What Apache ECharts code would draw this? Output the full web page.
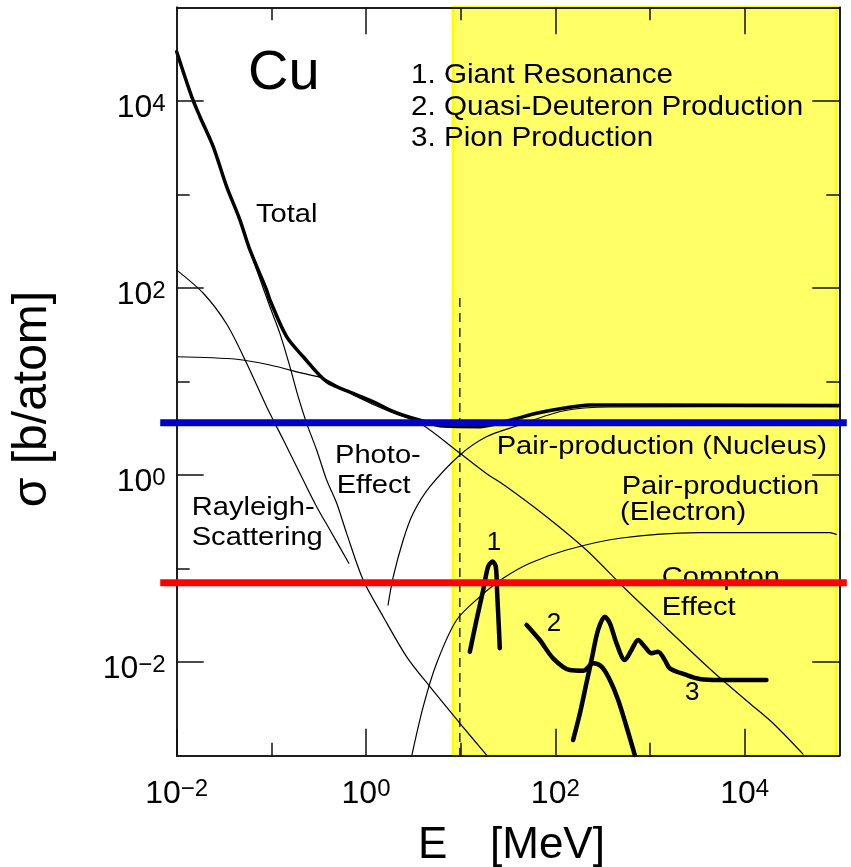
<!DOCTYPE html>
<html><head><meta charset="utf-8">
<script src="https://cdn.jsdelivr.net/npm/echarts@6/dist/echarts.min.js"></script>
<style>html,body{margin:0;padding:0;background:#fff}#c{width:851px;height:867px}</style>
</head><body><div id="c"></div>
<script>
// ---- axis ranges and ticks ----
const xMin = 0.01, xMax = 1e5, yMin = 1e-3, yMax = 1e5;
const xMajorTicks = [0.01, 1, 100, 1e4];
const xMinorTicks = [0.1, 10, 1000];
const yMajorTicks = [0.01, 1, 100, 1e4];
const yMinorTicks = [0.1, 10, 1000];
const yRightMinorTicks = [10, 1000];

// ---- curves [E (MeV), sigma (b/atom)] ----
const totalCurve = [[0.01,3.35e4],[0.0144,1.11e4],[0.0176,6.77e3],[0.0243,3.24e3],[0.0337,1.21e3],[0.0466,532],[0.0594,255],[0.0891,95],[0.0966,74.3],[0.145,30.1],[0.217,18.4],[0.384,9.95],[0.733,7.48],[1.29,5.85],[1.79,4.96],[2.47,4.38],[3.71,3.87],[6.53,3.34],[16,3.29],[35.8,3.94],[63.2,4.57],[121,5.17],[231,5.61],[1000,5.6],[1e5,5.55]];
const photoCurve = [[0.01,3.3e4],[0.0144,1.1e4],[0.0176,6.7e3],[0.0243,3.2e3],[0.0337,1.2e3],[0.0466,525],[0.0594,250],[0.0966,63],[0.123,32.7],[0.157,14.4],[0.192,6.88],[0.236,3.57],[0.301,1.85],[0.384,0.885],[0.49,0.499],[0.624,0.238],[0.933,0.0755],[1.52,0.0306],[2.69,0.0114],[4.73,0.00547],[9.82,0.00222],[18.7,0.00102]];
const rayleighCurve = [[0.01,155],[0.0191,87.7],[0.0337,41.2],[0.0548,15.7],[0.0891,5.38],[0.134,2.37],[0.217,0.885],[0.301,0.459],[0.416,0.259],[0.659,0.114]];
const comptonCurve = [[0.01,18.4],[0.043,17.3],[0.0966,15.0],[0.217,12.2],[0.353,10.8],[0.733,7.2],[1.79,4.75],[3.71,3.57],[9.82,1.71],[18.7,1.04],[30.5,0.75],[80.7,0.359],[213,0.158],[565,0.059],[1490,0.0232],[4630,0.0079],[11300,0.00363],[19950,0.00222],[41400,0.00104]];
const pairNucleusCurve = [[1.71,0.0408],[1.94,0.0819],[2.47,0.202],[3.15,0.39],[4.73,0.75],[9.82,1.64],[18.7,2.57],[38.9,3.34],[120,4.84],[377,5.34],[1e5,5.4]];
const pairElectronCurve = [[3.03,0.00098],[4.02,0.00334],[5.57,0.00972],[9.06,0.0282],[16,0.0501],[28.1,0.0787],[53.8,0.114],[131,0.158],[480,0.211],[3360,0.242],[18400,0.243],[79300,0.242],[93000,0.232]];
const giantResonance = [[12.5,0.0129],[14.7,0.0282],[17.3,0.059],[19.5,0.105],[21.7,0.119],[23.5,0.105],[24.3,0.0545],[25.3,0.0239],[25.9,0.0141]];
const quasiDeuteron = [[49.7,0.025],[68.5,0.01726],[94.8,0.01099],[142,0.00824],[197,0.0081],[251,0.00972],[308,0.00894],[377,0.00644],[461,0.00394],[565,0.00204],[690,0.00102]];
const pionProduction = [[154,0.00147],[182,0.00284],[213,0.00594],[241,0.01054],[283,0.0221],[333,0.0306],[377,0.026],[443,0.0159],[542,0.01054],[638,0.0135],[749,0.0173],[881,0.0146],[1037,0.01244],[1219,0.01294],[1433,0.01054],[1618,0.00859],[2427,0.00729],[3357,0.00661],[5457,0.00644],[16980,0.00644]];
const thresholdLine = [[9.8,78],[9.8,1e-3]];
const levelSpan = [0.0067, 1.2e5];
const blueLevel = 3.63;
const redLevel = 0.0706;
const yellowBand = [8.3, 93100];

const FONT = '"Liberation Sans", Arial, Helvetica, sans-serif';
const frame = {color:'#111', width:1.5};

function tickLabel(v){
  const e = Math.round(Math.log10(v));
  return '{b|10}{s|' + (e < 0 ? '\u2212' + (-e) : e) + '}';
}
const rich = {
  b:{fontSize:32, lineHeight:32, fontFamily:FONT, color:'#000'},
  s:{fontSize:24, lineHeight:22, fontFamily:FONT, color:'#000', verticalAlign:'top'}
};
function axis(kind, pos, ticks, len, labels){
  const a = {
    type:'log', logBase:10, gridIndex:0, position:pos, z:3,
    min: kind==='x'?xMin:yMin, max: kind==='x'?xMax:yMax,
    axisLine:{show:true, lineStyle:frame},
    splitLine:{show:false}, minorTick:{show:false}, minorSplitLine:{show:false},
    axisTick:{show:true, inside:true, length:len, customValues:ticks, lineStyle:frame},
    axisLabel:{show:false},
    axisPointer:{show:false}
  };
  if (labels){
    a.axisLabel = {show:true, customValues:ticks, formatter:tickLabel, rich:rich,
      margin: kind==='x'?22:11, padding: kind==='x'?[0,0,0,0]:[15,0,0,0]};
  }
  return a;
}
function curve(data, width, smooth){
  return {type:'line', data:data, xAxisIndex:0, yAxisIndex:0, symbol:'none', showSymbol:false,
    smooth:smooth, z:2, silent:true, animation:false,
    lineStyle:{color:'#000', width:width, cap:'round', join:'round'}};
}
function txt(x, y, s, size, sx, extra){
  return Object.assign({type:'text', x:x, y:y, scaleX:sx||1, z:5, silent:true,
    style:{text:s, font: size+'px '+FONT, fill:'#000', align:'left', verticalAlign:'middle'}}, extra||{});
}

const chart = echarts.init(document.getElementById('c'), null, {renderer:'canvas'});
const dashed = {
  type:'line', data:thresholdLine, xAxisIndex:0, yAxisIndex:0, symbol:'none', z:2, silent:true,
  lineStyle:{color:'#000', width:1.3, type:[9,6]},
  markArea:{silent:true, z:1, itemStyle:{color:'#ffff66', borderColor:'#ffff00', borderWidth:3},
    data:[[{xAxis:yellowBand[0]},{xAxis:yellowBand[1]}]]}
};
const S = 26, SX = 1.12, D = 9.1, LS = 28.5, LSX = 1.04;
chart.setOption({
  animation:false,
  backgroundColor:'#fff',
  grid:{left:176.7, right:11.7, top:7.3, bottom:111.3, containLabel:false, outerBoundsMode:'none'},
  xAxis:[
    axis('x','bottom',xMajorTicks,27,true),
    axis('x','bottom',xMinorTicks,13,false),
    axis('x','top',xMajorTicks.slice(1),27,false),
    axis('x','top',xMinorTicks,13,false)
  ],
  yAxis:[
    axis('y','left',yMajorTicks,27,true),
    axis('y','left',yMinorTicks,13,false),
    axis('y','right',yMajorTicks,27,false),
    axis('y','right',yRightMinorTicks,13,false)
  ],
  series:[
    dashed,
    curve(rayleighCurve,1.2,0.3),
    curve(photoCurve,1.2,0.3),
    curve(comptonCurve,1.2,0.3),
    curve(pairNucleusCurve,1.2,0.3),
    curve(pairElectronCurve,1.2,0.3),
    curve(totalCurve,3.5,0.3),
    curve(giantResonance,4.5,0.3),
    curve(quasiDeuteron,4.5,0.3),
    curve(pionProduction,4.5,0.3)
  ],
  graphic:[
    txt(248,73.4,'Cu',56),
    txt(411,74.9,'1. Giant Resonance',LS,LSX),
    txt(411,106.9,'2. Quasi-Deuteron Production',LS,LSX),
    txt(411,137.9,'3. Pion Production',LS,LSX),
    txt(256,224-D,'Total',S,SX),
    txt(335,465-D,'Photo-',S,SX),
    txt(336.7,495-D,'Effect',S,SX),
    txt(191.7,516.7-D,'Rayleigh-',S,SX),
    txt(191.7,546.7-D,'Scattering',S,SX),
    txt(496.7,456-D,'Pair-production (Nucleus)',S,SX),
    txt(621.7,496-D,'Pair-production',S,SX),
    txt(620,522-D,'(Electron)',S,SX),
    txt(661.7,587-D,'Compton',S,SX),
    txt(661.7,617-D,'Effect',S,SX),
    txt(486.7,551.7-D,'1',S),
    txt(546.7,633.3-D,'2',S),
    txt(685,701.7-D,'3',S),
    txt(418,846.3,'E',44),
    txt(490,846.3,'[MeV]',44),
    {type:'text', x:33, y:399, rotation:Math.PI/2, z:5, silent:true,
     style:{text:'\u03c3 [b/atom]', font:'48px '+FONT, fill:'#000', align:'center', verticalAlign:'middle'}}
  ]
});

// horizontal level lines, placed through the chart's own log scales (they extend past the frame)
function levelLine(id, val, color){
  const a = chart.convertToPixel({xAxisIndex:0, yAxisIndex:0}, [levelSpan[0], val]);
  const b = chart.convertToPixel({xAxisIndex:0, yAxisIndex:0}, [levelSpan[1], val]);
  return {type:'line', id:id, z:10, silent:true,
    shape:{x1:a[0], y1:a[1], x2:b[0], y2:b[1]},
    style:{stroke:color, lineWidth:7, lineCap:'butt'}};
}
chart.setOption({graphic:[levelLine('blue', blueLevel, '#0000c8'), levelLine('red', redLevel, '#ff0000')]});
</script></body></html>
